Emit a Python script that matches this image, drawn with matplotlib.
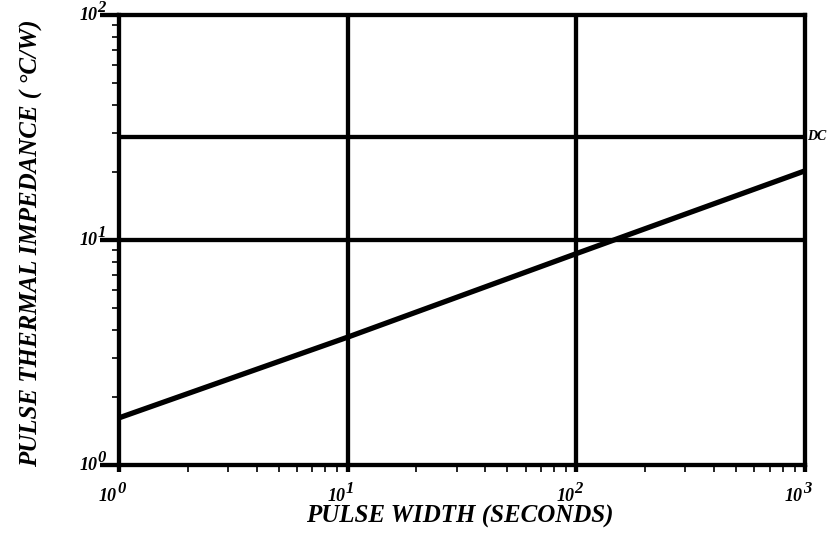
import numpy as np
import matplotlib
matplotlib.use("Agg")
from matplotlib import pyplot as plt
from matplotlib.ticker import FixedLocator, LogLocator, NullFormatter

plt.rcParams['font.family'] = ['Liberation Serif', 'DejaVu Serif']

# data
pulse_width = [1, 10, 100, 1000]
impedance = [1.62, 3.7, 8.7, 20.3]
dc_level = 28.7
x_ticks = [1, 10, 100, 1000]
x_exps = ['0', '1', '2', '3']
y_ticks = [1, 10, 100]
y_exps = ['0', '1', '2']

fig = plt.figure(figsize=(8.28, 5.34), dpi=100)
ax = fig.add_axes([0.1437, 0.1292, 0.9722 - 0.1437, 0.9719 - 0.1292])
ax.set_xscale('log')
ax.set_yscale('log')
ax.set_xlim(1, 1000)
ax.set_ylim(1, 100)

# thick grid at decades
for xv in x_ticks[1:-1]:
    ax.axvline(xv, color='black', lw=3.1, solid_capstyle='butt', zorder=2)
for yv in y_ticks[1:-1]:
    ax.axhline(yv, color='black', lw=3.1, solid_capstyle='butt', zorder=2)
ax.axhline(dc_level, color='black', lw=3.1, solid_capstyle='butt', zorder=2)

ax.plot(pulse_width, impedance, color='black', lw=3.8, solid_capstyle='butt', zorder=3)

bi = dict(fontweight='bold', fontstyle='italic', color='black')
ax.annotate('DC', (1, dc_level), xycoords=ax.get_yaxis_transform(),
            xytext=(2, 0), textcoords='offset pixels', fontsize=10,
            ha='left', va='center', annotation_clip=False, **bi)

for side in ['left', 'right', 'top', 'bottom']:
    ax.spines[side].set_linewidth(3.1)
    ax.spines[side].set_capstyle('projecting')

ax.xaxis.set_major_locator(FixedLocator(x_ticks))
ax.yaxis.set_major_locator(FixedLocator(y_ticks))
ax.xaxis.set_major_formatter(NullFormatter())
ax.yaxis.set_major_formatter(NullFormatter())
ax.xaxis.set_minor_locator(LogLocator(base=10, subs=np.arange(2, 10)))
ax.yaxis.set_minor_locator(LogLocator(base=10, subs=np.arange(2, 10)))
ax.xaxis.set_minor_formatter(NullFormatter())
ax.yaxis.set_minor_formatter(NullFormatter())

ax.tick_params(axis='x', which='major', direction='out', length=5, width=3.1)
ax.tick_params(axis='y', which='major', direction='out', length=14, width=3.1)
ax.tick_params(which='minor', direction='out', length=5, width=1.2)

# tick labels as "10" with a large exponent
for xv, e in zip(x_ticks, x_exps):
    ax.annotate('10', (xv, 0), xycoords=ax.get_xaxis_transform(), xytext=(-2, -23),
                textcoords='offset pixels', fontsize=13, ha='right', va='top',
                annotation_clip=False, **bi)
    ax.annotate(e, (xv, 0), xycoords=ax.get_xaxis_transform(), xytext=(-2, -16),
                textcoords='offset pixels', fontsize=12, ha='left', va='top',
                annotation_clip=False, **bi)
for yv, e in zip(y_ticks, y_exps):
    ax.annotate('10', (0, yv), xycoords=ax.get_yaxis_transform(), xytext=(-21, 0),
                textcoords='offset pixels', fontsize=13, ha='right', va='center',
                annotation_clip=False, **bi)
    ax.annotate(e, (0, yv), xycoords=ax.get_yaxis_transform(), xytext=(-13, -1),
                textcoords='offset pixels', fontsize=12, ha='right', va='bottom',
                annotation_clip=False, **bi)

fig.text(0.5556, 0.0337, 'PULSE WIDTH (SECONDS)', fontsize=18, ha='center', va='center', **bi)
fig.text(0.0375, 0.545, 'PULSE THERMAL IMPEDANCE ( °C/W)', fontsize=18, rotation=90,
         ha='center', va='center', **bi)

fig.savefig('out.png', dpi=100)
